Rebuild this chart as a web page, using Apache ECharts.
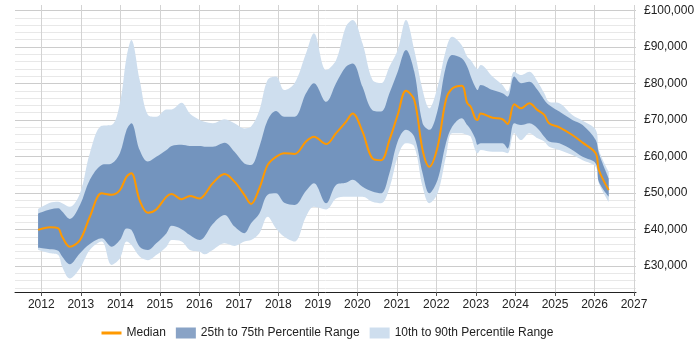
<!DOCTYPE html>
<html>
<head>
<meta charset="utf-8">
<script src="https://cdn.jsdelivr.net/npm/echarts@6/dist/echarts.min.js"></script>
<style>
  html, body { margin: 0; padding: 0; background: #fff; }
  #chart { width: 700px; height: 350px; }
</style>
</head>
<body>
<div id="chart"></div>
<script>
// x positions (decimal year) shared by all series
var years = [2011.92, 2012.22, 2012.43, 2012.53, 2012.72, 2012.98, 2013.23, 2013.53, 2013.78, 2013.99,
    2014.16, 2014.28, 2014.49, 2014.70, 2014.91, 2015.17, 2015.30, 2015.55, 2015.76, 2016.01,
    2016.13, 2016.34, 2016.64, 2016.89, 2017.14, 2017.31, 2017.52, 2017.73, 2017.94, 2018.15,
    2018.41, 2018.70, 2018.90, 2019.21, 2019.46, 2019.71, 2019.88, 2020.13, 2020.38, 2020.60,
    2020.81, 2021.02, 2021.23, 2021.44, 2021.65, 2021.82, 2022.03, 2022.24, 2022.40, 2022.64,
    2022.78, 2022.87, 2022.98, 2023.04, 2023.12, 2023.42, 2023.67, 2023.80, 2023.97, 2024.14,
    2024.35, 2024.56, 2024.73, 2024.85, 2025.11, 2025.44, 2025.70, 2026.03, 2026.11, 2026.36];

var p10 = [34400, 33500, 33000, 29800, 26600, 29400, 34400, 36700, 30300, 32100,
    36700, 35800, 32600, 31600, 33000, 35300, 37100, 36700, 34400, 33900,
    33200, 34400, 36200, 35500, 36700, 37100, 39000, 43500, 40300, 38000,
    36700, 43500, 46200, 45500, 48500, 49000, 49000, 49000, 47600, 47200,
    51300, 59900, 63600, 62700, 51700, 47200, 49900, 59900, 66400, 66400,
    65900, 65400, 61800, 60900, 61800, 61300, 61300, 60900, 66400, 64500,
    66400, 65000, 64100, 62700, 61800, 60400, 59000, 57200, 52700, 47600];

var p25 = [35000, 34600, 34200, 32600, 30500, 33500, 36000, 37600, 35300, 37100,
    40300, 39900, 35300, 34400, 36200, 39000, 41000, 40100, 38500, 37100,
    38000, 41500, 44000, 40800, 39000, 41700, 44400, 49500, 49900, 47300,
    46700, 50600, 52700, 47200, 52200, 52800, 53600, 51700, 50400, 49900,
    55400, 64100, 67300, 65400, 55400, 49900, 53600, 63600, 68200, 70500,
    68600, 67300, 65000, 63200, 63600, 63600, 63600, 62200, 69100, 68600,
    69100, 67700, 65400, 64100, 63600, 61800, 59900, 58100, 53100, 49000];

var median = [39900, 40600, 40300, 38000, 35300, 37100, 43500, 49900, 49500, 50800,
    54500, 55400, 48000, 44600, 45500, 49000, 49700, 48300, 49200, 48500,
    49500, 52700, 55200, 53100, 49500, 47000, 51300, 57700, 59900, 60900,
    60700, 64100, 65400, 63400, 66400, 69500, 71800, 66800, 59500, 59000,
    64500, 71400, 78000, 75500, 61800, 57200, 62700, 75500, 78600, 79400,
    74600, 73600, 70500, 70000, 71800, 70600, 70200, 68900, 74300, 73200,
    74600, 72700, 71400, 69100, 68000, 65900, 63800, 60900, 56300, 50800];

var p75 = [44400, 45500, 45800, 44900, 42900, 46700, 53600, 57700, 58100, 60900,
    67300, 69100, 61800, 58600, 59900, 61800, 62900, 63200, 62900, 62900,
    62700, 62700, 63800, 61300, 58100, 57700, 62700, 70000, 72500, 70900,
    70900, 77300, 80100, 75000, 80100, 84600, 85500, 79100, 72700, 72300,
    77300, 83200, 89200, 83200, 69100, 67300, 72700, 84600, 87800, 86900,
    84600, 81900, 79100, 78200, 79600, 78200, 77300, 76400, 81900, 80100,
    80500, 78200, 75500, 74100, 72300, 70000, 68600, 64500, 60900, 54000];

var p90 = [45600, 47300, 47600, 47200, 46200, 49900, 60900, 68400, 68600, 74600,
    87300, 91900, 81000, 71400, 70900, 72900, 72900, 74700, 71800, 70000,
    69500, 69100, 70200, 69100, 67700, 68200, 72700, 81000, 81900, 78200,
    80100, 88300, 93800, 83700, 86400, 95600, 97400, 91000, 81000, 80100,
    84600, 89200, 97400, 89200, 78200, 73200, 79100, 89200, 92800, 90500,
    87300, 86400, 84600, 84000, 85100, 81900, 79600, 77800, 83200, 82300,
    83200, 80500, 77300, 75000, 74600, 71400, 69800, 67300, 61800, 55800];

var yearTicks = [2012, 2013, 2014, 2015, 2016, 2017, 2018, 2019, 2020, 2021, 2022, 2023, 2024, 2025, 2026, 2027];
var salaryTicks = [30000, 40000, 50000, 60000, 70000, 80000, 90000, 100000];
var minorTicks = [24000, 26000, 28000, 32000, 34000, 36000, 38000, 42000, 44000, 46000, 48000,
    52000, 54000, 56000, 58000, 62000, 64000, 66000, 68000, 72000, 74000, 76000, 78000,
    82000, 84000, 86000, 88000, 92000, 94000, 96000, 98000];

var medianName = 'Median';
var innerName = '25th to 75th Percentile Range';
var outerName = '10th to 90th Percentile Range';
var lightBand = 'rgb(206,222,238)';
var darkBand = 'rgba(40,88,151,0.55)';
var X_MIN = 2011.336, X_MAX = 2027.05;
var Y_MIN = 22877, Y_MAX = 101507;

// decimal year -> ms; series sit on a hidden time axis so that stacking runs on y
var MS_YEAR = 365.25 * 86400000;
function toTime(yr) { return (yr - 1970) * MS_YEAR; }
function pairs(vals) {
    return years.map(function (x, i) { return [toTime(x), vals[i]]; });
}
function diff(hi, lo) {
    return years.map(function (x, i) { return [toTime(x), hi[i] - lo[i]]; });
}

var chart = echarts.init(document.getElementById('chart'));
var font = 'Liberation Sans, Arial, sans-serif';
var smooth = 0.35;

chart.setOption({
    animation: false,
    textStyle: { fontFamily: font },
    grid: { left: 15, right: 64, top: 5, bottom: 58 },
    xAxis: [{
        type: 'time',
        show: false,
        min: toTime(X_MIN),
        max: toTime(X_MAX)
    }, {
        // visible year axis, same span as the hidden time axis
        type: 'value',
        position: 'bottom',
        offset: 0,
        min: X_MIN,
        max: X_MAX,
        axisLine: { onZero: false, lineStyle: { color: '#222', width: 1 } },
        axisTick: { show: true, length: 4, customValues: yearTicks, lineStyle: { color: '#555' } },
        axisLabel: {
            customValues: yearTicks, color: '#222', fontSize: 12, margin: 7,
            formatter: function (v) { return String(v); }
        },
        splitLine: { show: true, lineStyle: { color: '#d3d3d3' } }
    }],
    yAxis: [{
        type: 'value',
        position: 'right',
        min: Y_MIN, max: Y_MAX,
        axisLine: { show: false },
        axisTick: { show: false, customValues: salaryTicks },
        axisLabel: {
            customValues: salaryTicks, color: '#222', fontSize: 12, margin: 8,
            formatter: function (v) { return '£' + v.toLocaleString('en-GB'); }
        },
        splitLine: { show: true, lineStyle: { color: '#cccccc' } }
    }, {
        type: 'value',
        position: 'right',
        min: Y_MIN, max: Y_MAX,
        axisLine: { show: false },
        axisTick: { show: false, customValues: minorTicks },
        axisLabel: { show: false, customValues: minorTicks },
        splitLine: { show: true, lineStyle: { color: '#e8e8e8' } }
    }],
    legend: {
        left: 95,
        top: 322,
        itemWidth: 20,
        itemHeight: 11,
        itemGap: 10,
        textStyle: { color: '#222', fontSize: 12, fontFamily: font },
        data: [
            { name: medianName, lineStyle: { width: 3 }, itemStyle: { opacity: 0 } },
            { name: innerName, icon: 'rect' },
            { name: outerName, icon: 'rect' }
        ]
    },
    series: [{
        name: 'p10', type: 'line', stack: 'outer', data: pairs(p10),
        symbol: 'none', smooth: smooth, silent: true,
        lineStyle: { opacity: 0 }
    }, {
        name: outerName, type: 'line', stack: 'outer', data: diff(p90, p10),
        symbol: 'none', smooth: smooth, silent: true,
        itemStyle: { color: lightBand },
        lineStyle: { opacity: 0 },
        areaStyle: { color: lightBand, opacity: 1 }
    }, {
        name: 'p25', type: 'line', stack: 'inner', data: pairs(p25),
        symbol: 'none', smooth: smooth, silent: true,
        lineStyle: { opacity: 0 }
    }, {
        name: innerName, type: 'line', stack: 'inner', data: diff(p75, p25),
        symbol: 'none', smooth: smooth, silent: true,
        itemStyle: { color: darkBand },
        lineStyle: { opacity: 0 },
        areaStyle: { color: darkBand, opacity: 1 }
    }, {
        name: medianName, type: 'line', data: pairs(median),
        symbol: 'none', smooth: smooth, z: 5,
        itemStyle: { color: '#ff9900' },
        lineStyle: { color: '#ff9900', width: 2 }
    }]
});
</script>
</body>
</html>
